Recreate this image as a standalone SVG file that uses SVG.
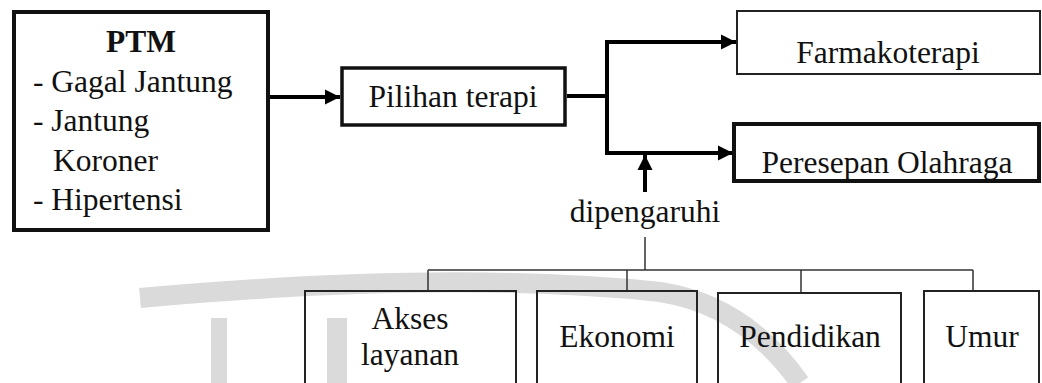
<svg xmlns="http://www.w3.org/2000/svg" width="1042" height="383" viewBox="0 0 1042 383">
<style>
  text { font-family: 'Liberation Serif', 'Times New Roman', Times, serif; font-size: 31.5px; fill: #111; }
  .c { text-anchor: middle; }
  .b { font-weight: bold; }
  .box { fill: none; stroke: #111; }
  .thick { stroke-width: 4; }
  .mid { stroke-width: 3.5; }
  .thin { stroke-width: 2; stroke: #222; }
  .conn { fill: none; stroke: #000; stroke-width: 4; }
  .tree { fill: none; stroke: #333; stroke-width: 1.5; }
</style>
<defs>
  <marker id="ah" markerUnits="userSpaceOnUse" markerWidth="16" markerHeight="16" refX="15" refY="8" orient="auto">
    <path d="M0,0.5 L15,8 L0,15.5 Z" fill="#000"/>
  </marker>
</defs>
<rect width="1042" height="383" fill="#fff"/>

<g id="watermark" fill="none" stroke="#dadada" stroke-width="20">
  <path d="M140 298 Q 450 270 660 292 Q 745 305 800 383"/>
  <path d="M219 318 V383" stroke-width="16"/>
  <path d="M337 318 V383" stroke-width="20"/>
</g>

<g id="connectors">
  <path class="conn" d="M270 97 H340" marker-end="url(#ah)"/>
  <path class="conn" d="M567 96 H607"/>
  <path class="conn" d="M607 42 V153"/>
  <path class="conn" d="M605 42 H736" marker-end="url(#ah)"/>
  <path class="conn" d="M605 153 H733" marker-end="url(#ah)"/>
  <path class="conn" d="M645 192 V155" marker-end="url(#ah)"/>
  <path class="tree" d="M645 237 V270 M428 270 H973 M428 270 V291 M627 270 V291 M801 270 V293 M973 270 V291"/>
</g>

<g id="ptm">
  <rect class="box thick" x="14" y="12" width="254" height="218"/>
  <text class="c b" x="141" y="52">PTM</text>
  <text x="33" y="92">- Gagal Jantung</text>
  <text x="33" y="131">- Jantung</text>
  <text x="53" y="171">Koroner</text>
  <text x="33" y="210">- Hipertensi</text>
</g>

<g id="pilihan">
  <rect class="box mid" x="342" y="68" width="223" height="57"/>
  <text class="c" x="453" y="107">Pilihan terapi</text>
</g>

<g id="farmako">
  <rect class="box thin" x="737" y="11" width="303" height="63"/>
  <text class="c" x="888" y="63">Farmakoterapi</text>
</g>

<g id="peresepan">
  <rect class="box thick" x="734" y="124" width="305" height="57"/>
  <text class="c" x="887" y="173">Peresepan Olahraga</text>
</g>

<g id="dipengaruhi">
  <text class="c" x="645" y="222">dipengaruhi</text>
</g>

<g id="akses">
  <rect class="box thin" x="305" y="291" width="211" height="100"/>
  <text class="c" x="410" y="329">Akses</text>
  <text class="c" x="410" y="365">layanan</text>
</g>

<g id="ekonomi">
  <rect class="box thin" x="537" y="291" width="160" height="100"/>
  <text class="c" x="617" y="347">Ekonomi</text>
</g>

<g id="pendidikan">
  <rect class="box thin" x="718" y="293" width="183" height="100"/>
  <text class="c" x="810" y="347">Pendidikan</text>
</g>

<g id="umur">
  <rect class="box thin" x="924" y="291" width="115" height="100"/>
  <text class="c" x="982" y="347">Umur</text>
</g>
</svg>
